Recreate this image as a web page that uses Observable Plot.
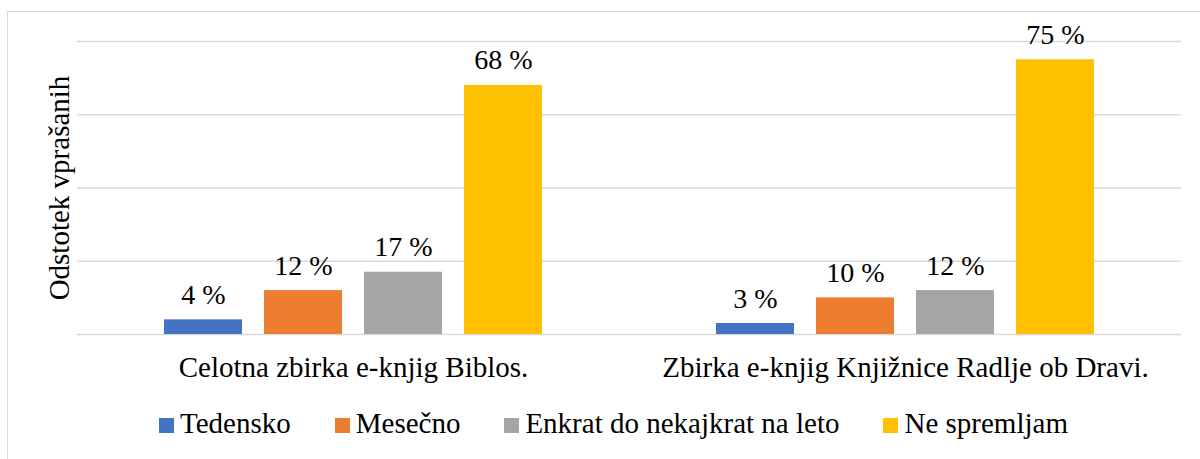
<!DOCTYPE html>
<html>
<head>
<meta charset="utf-8">
<script src="https://cdn.jsdelivr.net/npm/d3@7"></script>
<script src="https://cdn.jsdelivr.net/npm/@observablehq/plot@0.6"></script>
<style>
  html, body { margin: 0; padding: 0; background: #fff; overflow: hidden; }
  #wrap { position: relative; width: 1200px; height: 459px; font-family: 'Liberation Serif'; }
  #frame { position: absolute; left: 7px; top: 11px; width: 1300px; height: 600px; border: 1px solid #d9d9d9; box-sizing: border-box; }
  #chart { position: absolute; left: 0; top: 0; }
  #legend { position: absolute; left: 159px; top: 407px; display: flex; align-items: center; font-size: 29px; color: #000; white-space: nowrap; font-family: 'Liberation Serif'; }
  .item { display: flex; align-items: center; margin-right: 44px; }
  .sw { width: 15px; height: 15px; margin-right: 6px; margin-top: 3px; }
</style>
</head>
<body>
<div id="wrap">
  <div id="frame"></div>
  <div id="chart"></div>
  <div id="legend"></div>
</div>
<script>
const categories = ["Celotna zbirka e-knjig Biblos.", "Zbirka e-knjig Knjižnice Radlje ob Dravi."];
const series = ["Tedensko", "Mesečno", "Enkrat do nekajkrat na leto", "Ne spremljam"];
const biblosValues = [4, 12, 17, 68];
const radljeValues = [3, 10, 12, 75];
const colors = ["#4472C4", "#ED7D31", "#A5A5A5", "#FFC000"];
const gridValues = [0, 20, 40, 60, 80];
const yLabel = "Odstotek vprašanih";

const data = [];
[biblosValues, radljeValues].forEach((vals, ci) => {
  vals.forEach((v, si) => data.push({category: categories[ci], series: series[si], value: v}));
});

const chart = Plot.plot({
  width: 1200,
  height: 400,
  marginLeft: 77,
  marginRight: 19,
  marginTop: 41,
  marginBottom: 66,
  style: {fontFamily: "Liberation Serif", fontSize: "28px", color: "#000", background: "transparent"},
  fx: {domain: categories, padding: 0, label: null},
  x: {domain: series, paddingInner: 0.22, paddingOuter: 0.87, axis: null},
  y: {domain: [0, 80], axis: null},
  color: {domain: series, range: colors},
  marks: [
    Plot.ruleY(gridValues, {stroke: "#d9d9d9", strokeWidth: 1.5}),
    Plot.barY(data, {fx: "category", x: "series", y: "value", fill: "series"}),
    Plot.text(data, {fx: "category", x: "series", y: "value", text: d => `${d.value} %`, dy: -16, lineAnchor: "bottom", fontSize: 28, fill: "#000"}),
    Plot.axisFx({anchor: "bottom", tickSize: 0, tickPadding: 22, fontSize: 29, label: null}),
    Plot.axisY({ticks: [], tickSize: 0, label: yLabel, labelAnchor: "center", labelArrow: "none", labelOffset: 29, fontSize: 29})
  ]
});
document.getElementById("chart").appendChild(chart);

const legend = document.getElementById("legend");
series.forEach((s, i) => {
  const item = document.createElement("div");
  item.className = "item";
  const sw = document.createElement("div");
  sw.className = "sw";
  sw.style.background = colors[i];
  const t = document.createElement("span");
  t.textContent = s;
  item.appendChild(sw);
  item.appendChild(t);
  legend.appendChild(item);
});
</script>
</body>
</html>
